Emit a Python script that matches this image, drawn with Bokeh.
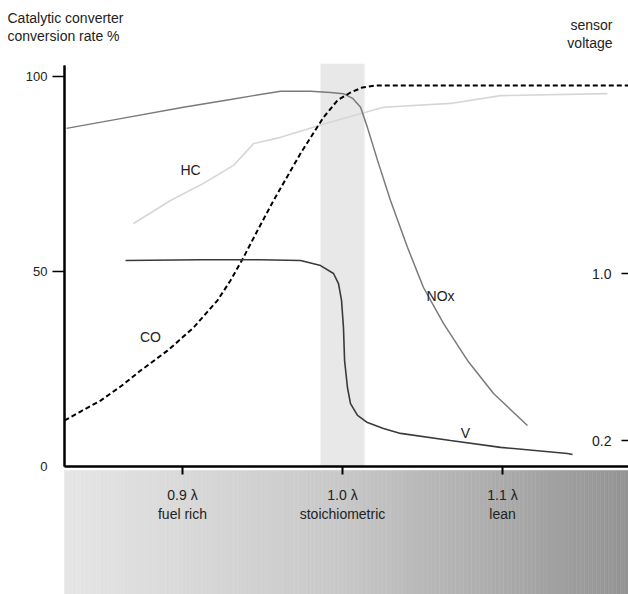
import numpy as np
from bokeh.plotting import figure
from bokeh.models import (Range1d, LinearAxis, FixedTicker, PrintfTickFormatter)
from bokeh.core.properties import value
from bokeh.embed import file_html
from bokeh.resources import INLINE

FONT = "Liberation Sans"

# ---------------- data ----------------
# lambda (air/fuel ratio) and conversion rate %
nox_lambda = [0.8275, 0.8613, 0.9006, 0.9300, 0.9444, 0.9613, 0.9800, 0.9925, 1.0006,
              1.0063, 1.0113, 1.0156, 1.0219, 1.0300, 1.0406, 1.0506, 1.0631, 1.0781,
              1.0944, 1.1156]
nox_rate = [86.7, 89.2, 92.1, 94.1, 95.1, 96.2, 96.2, 95.9, 95.6,
            94.4, 92.1, 86.9, 78.5, 68.2, 56.2, 45.9, 36.7, 27.2,
            18.7, 10.5]

hc_lambda = [0.8694, 0.8925, 0.9131, 0.9319, 0.9444, 0.9613, 0.9900, 1.0256, 1.0675, 1.0988, 1.1656]
hc_rate = [62.3, 68.2, 72.6, 77.2, 82.8, 84.4, 88.0, 92.1, 93.1, 95.1, 95.6]

co_lambda = [0.8263, 0.8363, 0.8488, 0.8613, 0.8738, 0.8906, 0.9069, 0.9219, 0.9300,
             0.9381, 0.9475, 0.9569, 0.9738, 0.9881, 0.9969, 1.0050, 1.0125, 1.0206,
             1.0469, 1.1788]
co_rate = [11.8, 14.1, 16.9, 20.5, 24.6, 29.7, 35.6, 42.6, 47.7,
           53.6, 61.0, 68.2, 80.3, 89.5, 93.9, 95.9, 97.2, 97.7,
           97.7, 97.7]

# sensor voltage (V)
v_lambda = [0.8644, 0.9113, 0.9488, 0.9738, 0.9863, 0.9944, 0.9975, 0.9994, 1.0006,
            1.0013, 1.0031, 1.0050, 1.0094, 1.0156, 1.0256, 1.0363, 1.0675, 1.0988,
            1.1406, 1.1438]
v_volt = [1.062, 1.066, 1.066, 1.062, 1.038, 1.000, 0.952, 0.871, 0.741,
          0.583, 0.454, 0.377, 0.320, 0.286, 0.258, 0.234, 0.200, 0.167,
          0.138, 0.133]

rate_ticks = [50, 100]
lambda_ticks = [0.9, 1.0, 1.1]
lambda_labels = ["0.9 \u03bb\nfuel rich", "1.0 \u03bb\nstoichiometric", "1.1 \u03bb\nlean"]
volt_ticks = [0.2, 1.0]

curve_names = ["HC", "CO", "NOx", "V"]
name_lambda = [0.905, 0.880, 1.0613, 1.0769]
name_rate = [75.9, 33.1, 43.8, 8.7]

# window of stoichiometric operation
window_lambda = (0.98625, 1.01375)

# ---------------- figure ----------------
X0, X1 = 0.78625, 1.17875
Y0, Y1 = -32.82, 119.49
p = figure(width=628, height=594, output_backend="svg", toolbar_location=None,
           x_range=Range1d(X0, X1), y_range=Range1d(Y0, Y1),
           min_border=0, min_border_left=0, min_border_right=0,
           min_border_top=0, min_border_bottom=0,
           x_axis_type=None, y_axis_type=None)
p.outline_line_color = None
p.grid.visible = False
p.background_fill_color = "white"
p.extra_y_ranges = {"v": Range1d(-0.5377, 2.3078)}

AX_X = 0.82625

# grey gradient strip under the x axis
n = 140
edges = np.linspace(AX_X, X1, n + 1)
mid = (edges[:-1] + edges[1:]) / 2
stops_x = [AX_X, 1.0, X1]
stops_c = [230, 200, 148]
shade = np.interp(mid, stops_x, stops_c).astype(int)
cols = ["#%02x%02x%02x" % (s, s, s) for s in shade]
p.quad(left=edges[:-1], right=edges[1:], bottom=Y0, top=-1.0,
       fill_color=cols, line_color=cols, line_width=0.5)

# stoichiometric window band
p.quad(left=[window_lambda[0]], right=[window_lambda[1]], bottom=[0], top=[103.3],
       fill_color="#e8e8e8", line_color=None)

# curves
p.line(hc_lambda, hc_rate, line_color="#d6d6d6", line_width=1.6)
p.line(nox_lambda, nox_rate, line_color="#7a7a7a", line_width=1.5)
p.line(co_lambda, co_rate, line_color="black", line_width=2, line_dash="5 3")
p.line(v_lambda, v_volt, line_color="#3a3a3a", line_width=1.6, y_range_name="v")

# curve names
p.text(x=name_lambda, y=name_rate, text=curve_names, text_font=value(FONT),
       text_font_size="14px", text_align="center", text_baseline="middle",
       text_color="#222222")

# titles
p.text(x=[0.790625, 0.790625], y=[115.1, 110.5],
       text=["Catalytic converter", "conversion rate %"], text_font=value(FONT),
       text_font_size="14px", text_align="left", text_baseline="middle",
       text_color="#222222")
p.text(x=[1.16875, 1.16875], y=[113.1, 108.5], text=["sensor", "voltage"],
       text_font=value(FONT), text_font_size="14px", text_align="right",
       text_baseline="middle", text_color="#222222")

# left axis (conversion rate)
yax = LinearAxis(fixed_location=AX_X, ticker=FixedTicker(ticks=rate_ticks),
                 bounds=(0, 102.8))
yax.axis_line_width = 2
yax.major_tick_out = 12
yax.major_tick_in = 0
yax.major_tick_line_width = 1.5
yax.minor_tick_out = 0
yax.minor_tick_in = 0
yax.major_label_standoff = 5
yax.major_label_text_font = FONT
yax.major_label_text_font_size = "13px"
yax.major_label_text_color = "#222222"
p.add_layout(yax, "left")

yax0 = LinearAxis(fixed_location=AX_X, ticker=FixedTicker(ticks=[0]),
                  bounds=(0, 102.8))
yax0.axis_line_width = 2
yax0.major_tick_out = 0
yax0.major_tick_in = 0
yax0.minor_tick_out = 0
yax0.minor_tick_in = 0
yax0.major_label_standoff = 17
yax0.major_label_text_font = FONT
yax0.major_label_text_font_size = "13px"
yax0.major_label_text_color = "#222222"
p.add_layout(yax0, "left")

# x axis (lambda)
xax = LinearAxis(fixed_location=0, ticker=FixedTicker(ticks=lambda_ticks),
                 bounds=(AX_X, X1))
xax.major_label_overrides = dict(zip(lambda_ticks, lambda_labels))
xax.axis_line_width = 2.5
xax.major_tick_out = 8
xax.major_tick_in = 0
xax.major_tick_line_width = 2
xax.minor_tick_out = 0
xax.minor_tick_in = 0
xax.major_label_standoff = 12
xax.major_label_text_font = FONT
xax.major_label_text_font_size = "14px"
xax.major_label_text_color = "#222222"
p.add_layout(xax, "below")

# right axis (sensor voltage) - labels inside, ticks pointing left
vax = LinearAxis(y_range_name="v", fixed_location=X1,
                 ticker=FixedTicker(ticks=volt_ticks),
                 formatter=PrintfTickFormatter(format="%.1f"))
vax.axis_line_alpha = 0
vax.major_tick_out = 7
vax.major_tick_in = 0
vax.major_tick_line_width = 1.5
vax.minor_tick_out = 0
vax.minor_tick_in = 0
vax.major_label_standoff = 10
vax.major_label_text_font = FONT
vax.major_label_text_font_size = "14px"
vax.major_label_text_color = "#222222"
p.add_layout(vax, "left")

open("out.html", "w").write(file_html(p, INLINE))
